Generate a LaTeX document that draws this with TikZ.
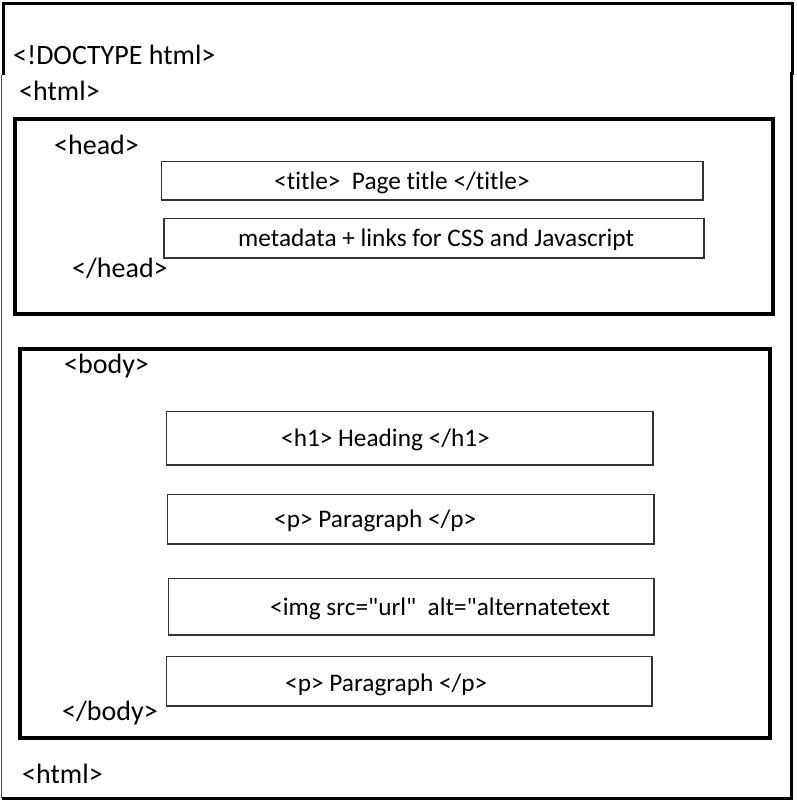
\documentclass[tikz,border=0pt]{standalone}
\usepackage{fontspec}
\setmainfont{Carlito}[Ligatures={NoCommon}]
\begin{document}
\begin{tikzpicture}[x=1pt,y=-1pt,
  outer/.style={line width=3pt,black},
  section/.style={line width=4pt,black},
  inner/.style={line width=1.3pt,black!80},
  biglbl/.style={anchor=base west,inner sep=0pt,font=\fontsize{28}{30}\selectfont},
  lbl/.style={anchor=base west,inner sep=0pt,font=\fontsize{25.3}{28}\selectfont}]
\useasboundingbox (0,0) rectangle (797,801);
\fill[white] (0,0) rectangle (797,801);
% outer frame (two stacked pieces)
\coordinate (o1) at (3,73);
\coordinate (o2) at (3,3);
\coordinate (o3) at (792.5,3);
\coordinate (o4) at (792.5,73);
\draw[outer,line cap=rect] (o1) -- (o2) -- (o3) -- (o4);
\coordinate (p1) at (1.5,75);
\coordinate (p2) at (1.5,798);
\coordinate (p3) at (791,798);
\coordinate (p4) at (791,72);
\draw[line width=1.5pt,black!70] (p1) -- (p2);
\draw[outer] (p2) -- (p3) -- (p4);
% head and body sections
\draw[section] (15,119) rectangle (773,314);
\draw[section] (20,349) rectangle (770,738);
% inner boxes
\draw[inner] (161.5,161.5) rectangle (703,200);
\draw[inner] (164,218.5) rectangle (704,258);
\draw[inner] (166.5,411.5) rectangle (653,465);
\draw[inner] (167.5,494.5) rectangle (654,544);
\draw[inner] (168.5,578.5) rectangle (654,635);
\draw[inner] (166.5,656.5) rectangle (652,706);
% labels
\node[biglbl] (doctype) at (13,64) {<!DOCTYPE html>};
\node[biglbl] (html1) at (19,100) {<html>};
\node[biglbl] (headopen) at (54,154) {<head>};
\node[biglbl] (headclose) at (72,277) {</head>};
\node[biglbl] (bodyopen) at (64,373) {<body>};
\node[biglbl] (bodyclose) at (62,720) {</body>};
\node[biglbl] (html2) at (22,783) {<html>};
\node[lbl] (title) at (274,189) {<title>\ \ Page title </title>};
\node[lbl] (meta) at (238,246) {metadata + links for CSS and Javascript};
\node[lbl] (h1) at (281,446) {<h1> Heading </h1>};
\node[lbl] (p1t) at (274,527) {<p> Paragraph </p>};
\node[lbl] (img) at (270,615) {<img src=\textquotedbl url\textquotedbl\ \ alt=\textquotedbl alternatetext};
\node[lbl] (p2t) at (285,691) {<p> Paragraph </p>};
\end{tikzpicture}
\end{document}
